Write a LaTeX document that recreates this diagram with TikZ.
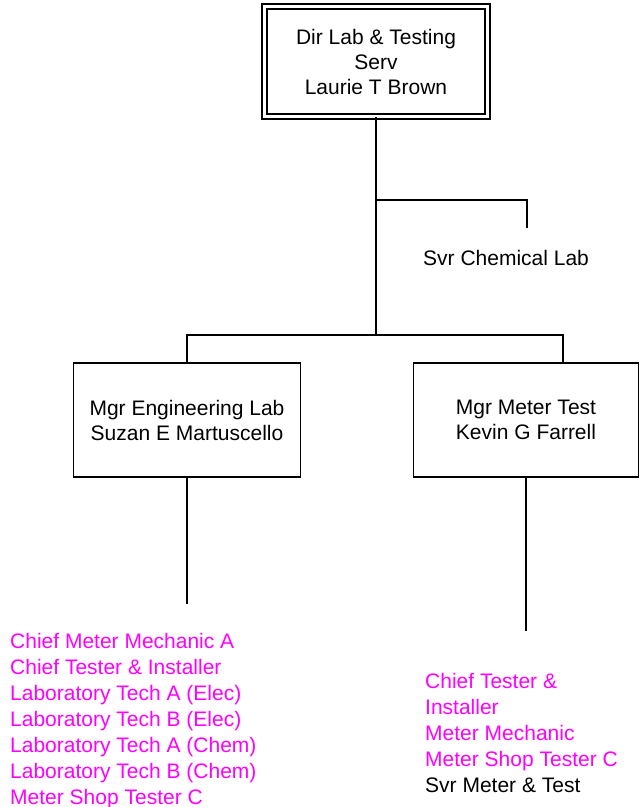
\documentclass[tikz,border=0pt]{standalone}
\usepackage{fontspec}
\setmainfont{Liberation Sans}
\definecolor{mag}{RGB}{255,0,255}
\begin{document}
\begin{tikzpicture}[x=1bp,y=-1bp,
  every node/.style={font=\fontsize{21bp}{25bp}\selectfont, inner sep=0pt},
  box/.style={draw, line width=1.3bp, align=center},
  topbox/.style={box, double, double distance=3.7bp},
  conn/.style={line width=1.3bp},
  list/.style={align=left, anchor=base west, font=\fontsize{21bp}{26bp}\selectfont}]
\useasboundingbox (0,0) rectangle (642,807);
\node[topbox, minimum width=223bp, minimum height=110bp] (top) at (376,61.5)
  {Dir Lab \& Testing\\Serv\\Laurie T Brown};
\node[box, minimum width=227bp, minimum height=114bp] (eng) at (187,420)
  {Mgr Engineering Lab\\Suzan E Martuscello};
\node[box, minimum width=225bp, minimum height=114bp] (met) at (526,420)
  {Mgr Meter Test\\Kevin G Farrell};
\node[anchor=base west] (chem) at (423,265) {Svr Chemical Lab};
\coordinate (bar) at (376,335);
\coordinate (cbr) at (376,200);
\coordinate (cend) at (527,228);
\coordinate (mtop) at (563,363);
\coordinate (engend) at (187,604);
\coordinate (metend) at (526,631);
\draw[conn] (top.south) -- (bar);
\draw[conn] (cbr) -| (cend);
\draw[conn] (eng.north) |- (bar) -| (mtop);
\draw[conn] (eng.south) -- (engend);
\draw[conn] (met.south) -- (metend);
\node[list, text=mag] (englist) at (10,804)
  {Chief Meter Mechanic A\\Chief Tester \& Installer\\Laboratory Tech A (Elec)\\Laboratory Tech B (Elec)\\Laboratory Tech A (Chem)\\Laboratory Tech B (Chem)\\Meter Shop Tester C};
\node[list] (metlist) at (425,792)
  {\textcolor{mag}{Chief Tester \&}\\\textcolor{mag}{Installer}\\\textcolor{mag}{Meter Mechanic}\\\textcolor{mag}{Meter Shop Tester C}\\Svr Meter \& Test};
\end{tikzpicture}
\end{document}
